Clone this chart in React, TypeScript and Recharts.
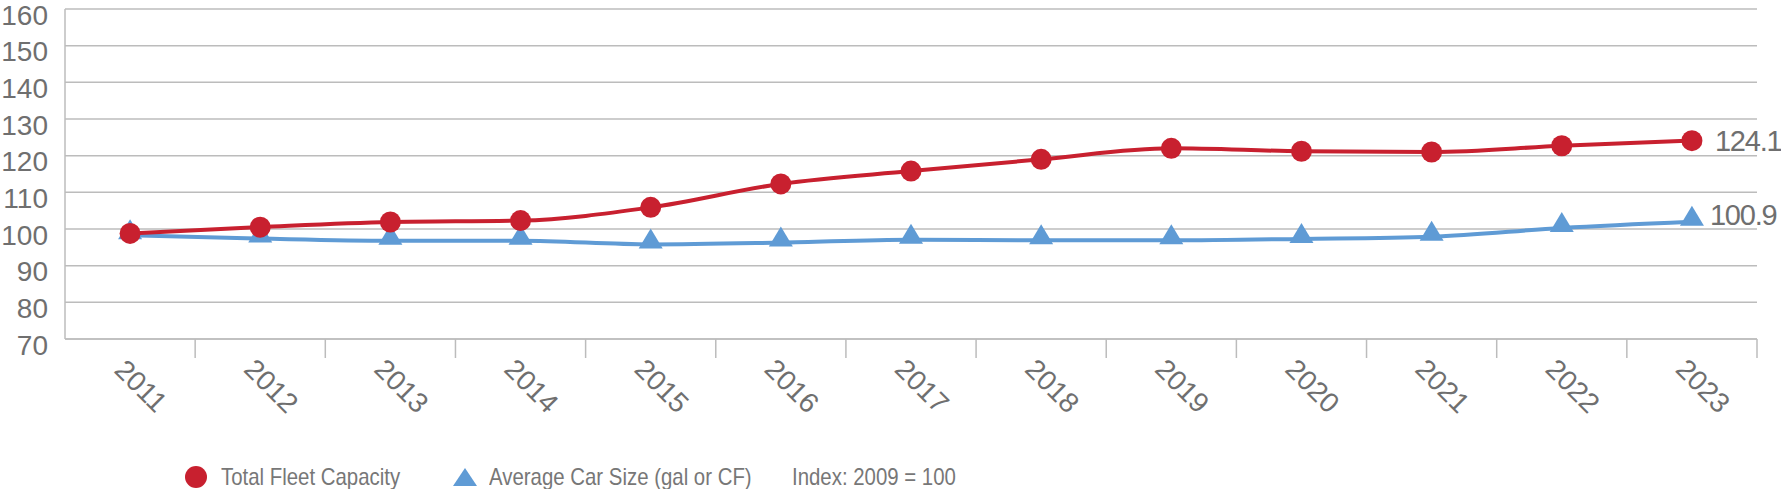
import React from "react";
import { LineChart, Line, XAxis, YAxis, CartesianGrid, LabelList } from "recharts";

const years = ["2011", "2012", "2013", "2014", "2015", "2016", "2017", "2018", "2019", "2020", "2021", "2022", "2023"];
const totalFleetCapacity = [98.8, 100.5, 101.9, 102.3, 105.9, 112.3, 115.8, 119.0, 122.0, 121.2, 121.0, 122.7, 124.1];
const averageCarSize = [98.3, 97.4, 96.8, 96.8, 95.8, 96.3, 97.1, 96.9, 96.9, 97.3, 97.9, 100.3, 102.0];
const endLabels = { fleet: "124.1", car: "100.9" };
const yTicks = [70, 80, 90, 100, 110, 120, 130, 140, 150, 160];

const RED = "#c8202f";
const BLUE = "#5f9bd5";
const GRID = "#bcbcbc";
const TEXT = "#6f6f6f";
const FONT = "'Liberation Sans', Arial, sans-serif";

// x runs 0..13, each year sits in the middle of its band
const data = years.map((year, i) => ({
  year,
  pos: i + 0.5,
  fleet: totalFleetCapacity[i],
  car: averageCarSize[i],
}));

// band centers get a year label, band edges get a tick line
const xTicks = years.flatMap((_, i) => [i + 0.5, i + 1]);

function YearTick(props: any) {
  const { x, y, payload } = props;
  const v = payload.value;
  if (Number.isInteger(v)) {
    return <line x1={x} y1={y} x2={x} y2={y + 19} stroke={GRID} strokeWidth={1.5} />;
  }
  const cx = x + 11;
  const cy = y + 47;
  return (
    <text
      x={cx}
      y={cy}
      transform={`rotate(45, ${cx}, ${cy})`}
      textAnchor="middle"
      dominantBaseline="central"
      fill={TEXT}
      fontSize={28}
      fontFamily={FONT}
    >
      {years[Math.floor(v)]}
    </text>
  );
}

function ValueTick(props: any) {
  const { x, y, payload } = props;
  return (
    <text x={x} y={y + 6} textAnchor="end" dominantBaseline="central" fill={TEXT} fontSize={28} fontFamily={FONT}>
      {payload.value}
    </text>
  );
}

function CircleDot(props: any) {
  const { cx, cy } = props;
  return <circle cx={cx} cy={cy} r={10.5} fill={RED} />;
}

function TriangleDot(props: any) {
  const { cx, cy } = props;
  return <path d={`M${cx},${cy - 16} L${cx + 12},${cy + 4} L${cx - 12},${cy + 4} Z`} fill={BLUE} />;
}

function endLabel(text: string, dx: number, dy: number) {
  return (props: any) => {
    const { x, y, index } = props;
    if (index !== years.length - 1) return null;
    return (
      <text
        x={x + dx}
        y={y + dy}
        dominantBaseline="central"
        fill={TEXT}
        fontSize={29}
        letterSpacing={-1.2}
        fontFamily={FONT}
      >
        {text}
      </text>
    );
  };
}

const legendText: React.CSSProperties = {
  fontFamily: FONT,
  fontSize: 24,
  color: "#777",
  position: "absolute",
  top: 462,
  lineHeight: "30px",
  whiteSpace: "nowrap",
  transform: "scaleX(0.85)",
  transformOrigin: "left center",
};

export default function App() {
  return (
    <div style={{ position: "relative", width: 1781, height: 489, background: "#fff" }}>
      <style>{`body{margin:0}`}</style>
      <LineChart width={1781} height={489} data={data} margin={{ top: 9, right: 24, left: 0, bottom: 0 }}>
        <CartesianGrid vertical={false} stroke={GRID} strokeWidth={1.5} />
        <XAxis
          dataKey="pos"
          type="number"
          domain={[0, 13]}
          ticks={xTicks}
          interval={0}
          height={150}
          tick={<YearTick />}
          tickLine={false}
          tickSize={0}
          tickMargin={0}
          axisLine={{ stroke: GRID, strokeWidth: 1.5 }}
        />
        <YAxis
          domain={[70, 160]}
          ticks={yTicks}
          interval={0}
          width={65}
          tickLine={false}
          tickSize={0}
          tickMargin={17}
          axisLine={{ stroke: GRID, strokeWidth: 1.5 }}
          tick={<ValueTick />}
        />
        <Line
          dataKey="car"
          type="monotone"
          stroke={BLUE}
          strokeWidth={4}
          dot={<TriangleDot />}
          activeDot={false}
          isAnimationActive={false}
        >
          <LabelList dataKey="car" content={endLabel(endLabels.car, 18, -7)} />
        </Line>
        <Line
          dataKey="fleet"
          type="monotone"
          stroke={RED}
          strokeWidth={4}
          dot={<CircleDot />}
          activeDot={false}
          isAnimationActive={false}
        >
          <LabelList dataKey="fleet" content={endLabel(endLabels.fleet, 23, 0)} />
        </Line>
      </LineChart>
      <svg style={{ position: "absolute", left: 180, top: 462 }} width={300} height={30}>
        <circle cx={16} cy={15} r={11} fill={RED} />
        <path d="M285,6 L297,24 L273,24 Z" fill={BLUE} />
      </svg>
      <div style={{ ...legendText, left: 221 }}>Total Fleet Capacity</div>
      <div style={{ ...legendText, left: 489 }}>Average Car Size (gal or CF)</div>
      <div style={{ ...legendText, left: 792 }}>Index: 2009 = 100</div>
    </div>
  );
}
